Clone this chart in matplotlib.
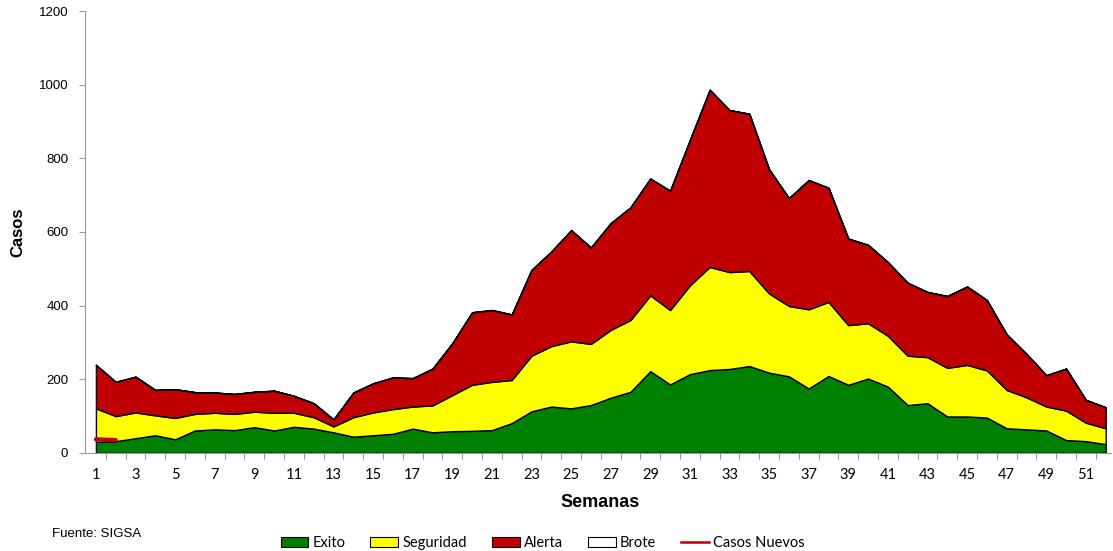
import numpy as np
import matplotlib
matplotlib.use('Agg')
import matplotlib.pyplot as plt
from matplotlib.patches import Patch
from matplotlib.lines import Line2D

# semanas epidemiologicas
semanas = np.arange(1, 53)

exito = [30, 32, 40, 48, 37, 61, 64, 62, 70, 61,
         71, 66, 56, 44, 48, 52, 66, 56, 59, 60,
         62, 81, 113, 126, 121, 130, 150, 166, 222, 186,
         214, 225, 228, 236, 218, 208, 175, 209, 185, 202,
         180, 130, 135, 99, 99, 96, 67, 64, 61, 35,
         32, 24]
seguridad = [91, 68, 70, 54, 58, 45, 45, 44, 42, 48,
             38, 31, 16, 53, 62, 67, 60, 73, 98, 125,
             131, 117, 151, 164, 182, 166, 184, 195, 206, 202,
             241, 280, 263, 258, 215, 191, 215, 201, 162, 150,
             138, 134, 125, 132, 140, 128, 104, 87, 65, 80,
             50, 43]
alerta = [118, 93, 97, 69, 78, 59, 55, 54, 54, 60,
          46, 38, 19, 67, 79, 86, 77, 100, 141, 197,
          195, 178, 233, 257, 302, 262, 290, 306, 317, 324,
          395, 481, 440, 427, 337, 293, 351, 310, 235, 213,
          200, 198, 177, 195, 213, 191, 151, 118, 85, 114,
          62, 57]
brote = [0] * 52
casos_nuevos = [37, 35] + [np.nan] * 50

colores = ['#008000', '#FFFF00', '#C00000', '#FFFFFF']
etiquetas = ['Exito', 'Seguridad', 'Alerta', 'Brote']

fig = plt.figure(figsize=(11.13, 5.51), dpi=100)
ax = fig.add_axes([0.0764, 0.178, 0.922, 0.802])

ax.stackplot(semanas, exito, seguridad, alerta, brote, colors=colores,
             edgecolor='black', linewidth=1.0)
ax.plot(semanas, casos_nuevos, color='#C00000', linewidth=3, solid_capstyle='round')

ax.set_xlim(0.45, 52.28)
ax.set_ylim(0, 1200)

ax.spines['top'].set_visible(False)
ax.spines['right'].set_visible(False)
ax.spines['left'].set_color('#999999')
ax.spines['bottom'].set_color('#999999')

ax.set_yticks(np.arange(0, 1201, 200))
ax.tick_params(axis='y', direction='out', length=4, color='#999999',
               labelsize=9.5, pad=8)
for t in ax.get_yticklabels():
    t.set_fontfamily('Liberation Sans')

# marcas entre categorias, etiquetas en semanas impares
ax.set_xticks(np.arange(1.5, 52.5, 1))
ax.set_xticklabels([])
ax.tick_params(axis='x', which='major', direction='out', length=4, color='#999999')
ax.set_xticks(np.arange(1, 53, 2), minor=True)
ax.set_xticklabels([str(s) for s in range(1, 53, 2)], minor=True,
                   fontfamily='Lato', fontsize=10.5)
ax.tick_params(axis='x', which='minor', length=0, pad=11)

ax.set_xlabel('Semanas', fontfamily='Liberation Sans', fontweight='bold',
              fontsize=13)
ax.set_ylabel('Casos', fontfamily='Liberation Sans', fontweight='bold',
              fontsize=12)
ax.xaxis.set_label_coords(0.502, -0.093)
ax.yaxis.set_label_coords(-0.058, 0.5)

fig.text(0.047, 0.025, 'Fuente: SIGSA', fontfamily='Liberation Sans', fontsize=9.5)

handles = [Patch(facecolor=c, edgecolor='black', linewidth=0.8) for c in colores]
handles.append(Line2D([0], [0], color='#C00000', linewidth=1.8))
fig.legend(handles, etiquetas + ['Casos Nuevos'], loc='lower center',
           bbox_to_anchor=(0.4875, -0.022), ncol=5, frameon=False,
           prop={'family': 'Lato', 'size': 10.5}, handlelength=1.9,
           handleheight=0.7, handletextpad=0.3, columnspacing=1.7)

fig.savefig('out.png', dpi=100)
